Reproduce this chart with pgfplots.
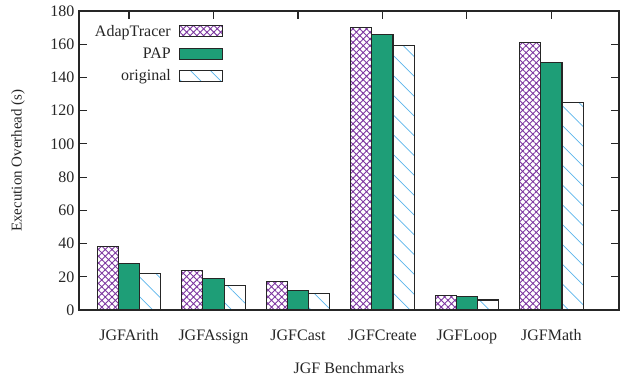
\documentclass[border=0pt]{standalone}
\usepackage{fontspec}
\setmainfont{Liberation Serif}
\usepackage{pgfplots}
\pgfplotsset{compat=1.18}
\usetikzlibrary{patterns.meta}
\definecolor{purp}{RGB}{125,55,160}
\definecolor{pgreen}{RGB}{30,158,119}
\definecolor{lblue}{RGB}{90,180,235}
\begin{document}
\begin{tikzpicture}
\useasboundingbox (-79pt,-65pt) rectangle (552pt,310pt);
\begin{axis}[
  scale only axis, width=540pt, height=299pt, at={(0pt,0pt)}, anchor=south west,
  ymin=0, ymax=180, ytick={0,20,...,180},
  xmin=-0.592, xmax=5.80, xtick={0,1,2,3,4,5},
  xticklabels={JGFArith,JGFAssign,JGFCast,JGFCreate,JGFLoop,JGFMath},
  tick align=inside, major tick length=8pt,
  axis line style={line width=1.1pt, black!85},
  every tick/.style={line width=1.1pt, black!85},
  /pgf/number format/assume math mode=true,
  every tick label/.append style={font=\fontsize{16}{19}\selectfont, text=black!85},
  yticklabel style={xshift=-1pt},
  xticklabel style={anchor=base, yshift=-30pt},
  label style={font=\fontsize{16}{19}\selectfont, text=black!85},
  ylabel={Execution Overhead (s)},
  ylabel style={at={(axis description cs:-0.113,0.5)}, anchor=center, font=\fontsize{15}{18}\selectfont},
  xlabel={JGF Benchmarks},
  xlabel style={at={(axis description cs:0.5,-0.211)}, anchor=base},
  legend style={at={(axis description cs:0.2724,0.967)}, anchor=north east, draw=none, fill=none,
    font=\fontsize{16}{19}\selectfont, text=black!85, row sep=6pt},
  legend cell align=right,
  legend plot pos=right,
  legend image code/.code={\path (0pt,0pt); \draw[#1] (6pt,-5.5pt) rectangle (49pt,5.5pt);},
]
\addplot[ybar, bar width=0.25, bar shift=-0.25, draw=black!85, line width=1.1pt,
  pattern={Hatch[angle=45,distance=4.8pt,line width=0.9pt]}, pattern color=purp]
  coordinates {(0,38) (1,24) (2,17) (3,170) (4,9) (5,161)};
\addlegendentry{AdapTracer}
\addplot[ybar, bar width=0.25, bar shift=0, draw=black!85, line width=1.1pt, fill=pgreen]
  coordinates {(0,28) (1,19) (2,12) (3,166) (4,8) (5,149)};
\addlegendentry{PAP}
\addplot[ybar, bar width=0.25, bar shift=0.25, draw=black!85, line width=1.1pt,
  pattern={Lines[angle=-45,distance=14pt,line width=0.7pt]}, pattern color=lblue]
  coordinates {(0,22) (1,15) (2,10) (3,159) (4,6) (5,125)};
\addlegendentry{original}
\end{axis}
\end{tikzpicture}
\end{document}
